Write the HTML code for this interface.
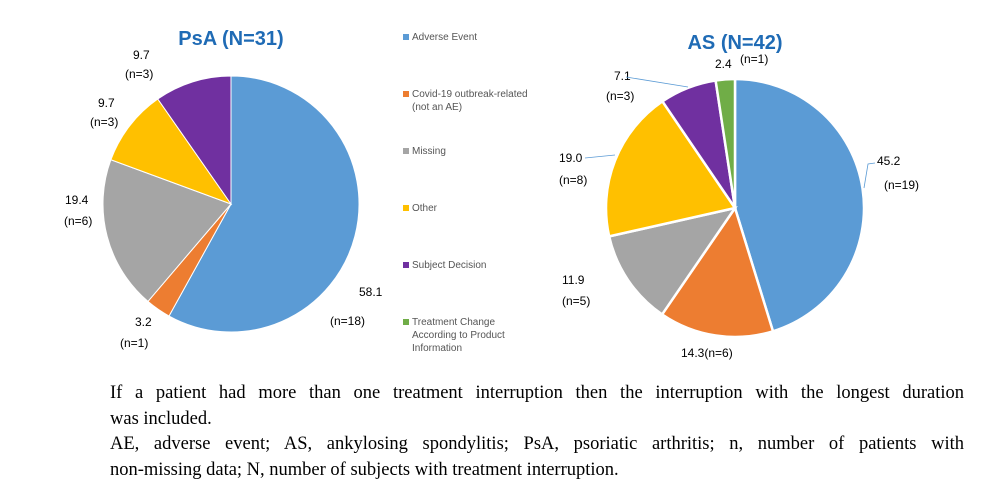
<!DOCTYPE html>
<html><head><meta charset="utf-8"><style>
body{margin:0;width:994px;height:500px;background:#fff;overflow:hidden;position:relative;font-family:"Liberation Sans",sans-serif}
svg{position:absolute;left:0;top:0}
.foot{position:absolute;left:110px;width:854px;font-family:"Liberation Serif",serif;font-size:18.5px;line-height:25.5px;color:#000;white-space:nowrap}
.j{text-align:justify;text-align-last:justify}
</style></head><body>
<svg width="994" height="380">
<g id="left"></g>
<g id="right"></g>
<text x="231" y="45" text-anchor="middle" font-size="20" font-weight="bold" fill="#1f6bb5">PsA (N=31)</text>
<text x="735" y="49" text-anchor="middle" font-size="20" font-weight="bold" fill="#1f6bb5">AS (N=42)</text>
<g id="legend" font-size="10" fill="#555"></g>
<g font-size="12" fill="#000">
<text x="133" y="59">9.7</text><text x="125" y="78">(n=3)</text>
<text x="98" y="107">9.7</text><text x="90" y="126">(n=3)</text>
<text x="65" y="204">19.4</text><text x="64" y="225">(n=6)</text>
<text x="359" y="296">58.1</text><text x="330" y="325">(n=18)</text>
<text x="135" y="326">3.2</text><text x="120" y="347">(n=1)</text>
</g>
<g font-size="12" fill="#000">
<text x="715" y="68">2.4</text><text x="740" y="63">(n=1)</text>
<text x="614" y="80">7.1</text><text x="606" y="100">(n=3)</text>
<text x="559" y="162">19.0</text><text x="559" y="184">(n=8)</text>
<text x="877" y="165">45.2</text><text x="884" y="189">(n=19)</text>
<text x="562" y="284">11.9</text><text x="562" y="305">(n=5)</text>
<text x="681" y="357">14.3(n=6)</text>
</g>
<g stroke="#5b9bd5" stroke-width="0.8" fill="none">
<polyline points="626,77 688,87"/><polyline points="585,158 615,155"/><polyline points="875,163 868,164 864,188"/>
</g>
</svg>
<div class="foot" style="top:381px"><div class="j">If a patient had more than one treatment interruption then the interruption with the longest duration</div><div>was included.</div></div>
<div class="foot" style="top:432px"><div class="j">AE, adverse event; AS, ankylosing spondylitis; PsA, psoriatic arthritis; n, number of patients with</div><div>non-missing data; N, number of subjects with treatment interruption.</div></div>
<script>
const categories=["Adverse Event","Covid-19 outbreak-related (not an AE)","Missing","Other","Subject Decision","Treatment Change According to Product Information"];
const colors=["#5b9bd5","#ed7d31","#a5a5a5","#ffc000","#7030a0","#70ad47"];
const psaValues=[58.1,3.2,19.4,9.7,9.7,0];
const asValues=[45.2,14.3,11.9,19.0,7.1,2.4];
const NS="http://www.w3.org/2000/svg";
function pie(gid,vals,cx,cy,r,sw,prefix){
  const g=document.getElementById(gid);
  const tot=vals.reduce((a,b)=>a+b,0);let a0=0;
  vals.forEach((v,i)=>{
    if(v<=0)return;
    const a1=a0+v/tot*2*Math.PI;
    const x0=cx+r*Math.sin(a0),y0=cy-r*Math.cos(a0),x1=cx+r*Math.sin(a1),y1=cy-r*Math.cos(a1);
    const p=document.createElementNS(NS,"path");
    p.setAttribute("d",`M${cx},${cy}L${x0},${y0}A${r},${r} 0 ${a1-a0>Math.PI?1:0} 1 ${x1},${y1}Z`);
    p.setAttribute("fill",colors[i]);p.setAttribute("stroke","#fff");p.setAttribute("stroke-width",sw);
    
    
    g.appendChild(p);a0=a1;
  });
}
pie("left",psaValues,231,204,128,1,"psa");
pie("right",asValues,735,208,129,2.5,"as");
const lg=document.getElementById("legend");
const ly=[40,97,154,211,268,325];
const lines=[["Adverse Event"],["Covid-19 outbreak-related","(not an AE)"],["Missing"],["Other"],["Subject Decision"],["Treatment Change","According to Product","Information"]];
categories.forEach((c,i)=>{
  const r=document.createElementNS(NS,"rect");
  r.setAttribute("x",403);r.setAttribute("y",ly[i]-6);r.setAttribute("width",6);r.setAttribute("height",6);r.setAttribute("fill",colors[i]);
  
  
  lg.appendChild(r);
  lines[i].forEach((t,j)=>{
    const tx=document.createElementNS(NS,"text");
    tx.setAttribute("x",412);tx.setAttribute("y",ly[i]+j*13);tx.textContent=t;
    
    
    lg.appendChild(tx);
  });
});
</script>
</body></html>
